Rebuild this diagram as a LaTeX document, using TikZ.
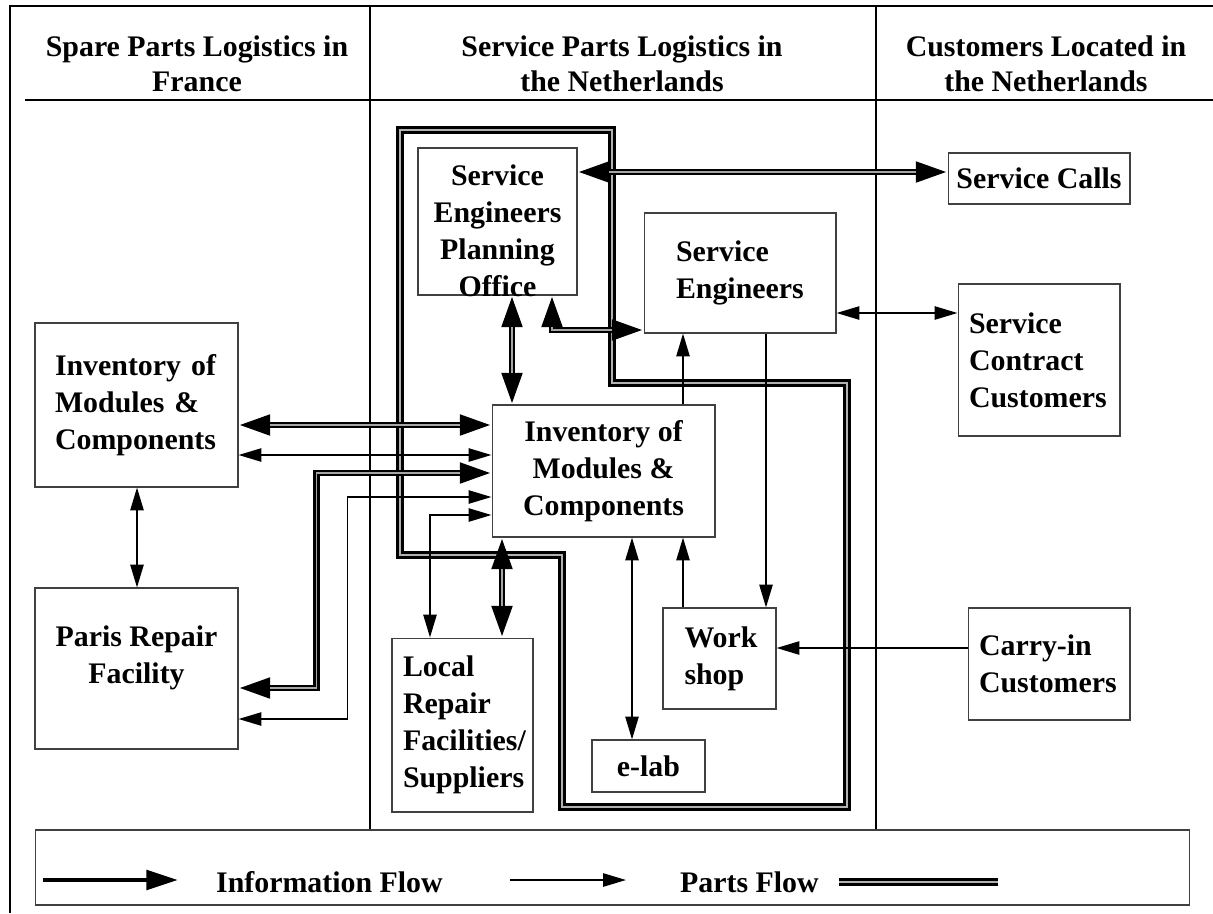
\documentclass[tikz,border=0pt]{standalone}
\usepackage{fontspec}
\setmainfont{Liberation Serif}
\usetikzlibrary{arrows.meta}

\begin{document}
\begin{tikzpicture}[x=0.02cm, y=-0.02cm,
    bigtip/.tip={Triangle[length=18pt, width=11pt]},
    smalltip/.tip={Triangle[length=13pt, width=7.5pt]},
    box/.style={draw=black!75, line width=0.6pt, inner sep=0pt, align=center,
      font=\bfseries\fontsize{17}{21}\selectfont},
    lbox/.style={box, align=left},
    colhead/.style={align=center, font=\bfseries\fontsize{17}{20}\selectfont},
    txt/.style={align=center, font=\bfseries\fontsize{17}{21}\selectfont},
    sepline/.style={line width=0.9pt},
    zone/.style={line width=1.5pt, double=black!30, double distance=1.6pt},
    thk/.style={line width=3.8pt, line join=miter},
    hollow/.style={postaction={draw=black!35, line width=1.1pt, -, shorten <=18pt, shorten >=18pt}},
    infoboth/.style={thk, hollow, arrows={bigtip-bigtip}},
    flow/.style={line width=1.1pt},
    partsto/.style={flow, arrows={-smalltip}},
    partsboth/.style={flow, arrows={smalltip-smalltip}}]
    \fill[white] (0,0) rectangle (1213,913);
    \useasboundingbox (0,0) rectangle (1213,913);

    % frame and columns
    \draw[sepline] (10,913) -- (10,6) -- (1213,6);
    \draw[sepline] (25,100) -- (1213,100);
    \draw[sepline] (370,6) -- (370,830);
    \draw[sepline] (876,6) -- (876,830);

    \node[colhead] (hfr) at (197,64) {Spare Parts Logistics in\\France};
    \node[colhead] (hnl) at (622,64) {Service Parts Logistics in\\the Netherlands};
    \node[colhead] (hcu) at (1046,64) {Customers Located in\\the Netherlands};

    \draw[zone] (400,130) -- (612,130) -- (612,383) -- (847,383) -- (847,807) -- (562,807) -- (562,555) -- (400,555) -- cycle;

    % boxes
    \node[lbox, text width=3.26cm, inner xsep=0.4cm, minimum height=3.28cm] (invF) at (136.5,405) {Inventory of\\Modules \&\\Components};
    \node[box, minimum width=4.06cm, minimum height=3.22cm,
      label={[txt, yshift=0.21cm]center:{Paris Repair\\Facility}}] (paris) at (136.5,668.5) {};
    \node[box, minimum width=3.18cm, minimum height=2.94cm,
      label={[txt, yshift=-0.19cm]center:{Service\\Engineers\\Planning\\Office}}] (sepo) at (497.5,221.5) {};
    \node[lbox, text width=2.56cm, inner xsep=0.64cm, minimum height=2.4cm] (seng) at (740,273) {Service\\Engineers};
    \node[box, minimum width=3.64cm, minimum height=1.02cm] (calls) at (1039,178.5) {Service Calls};
    \node[lbox, text width=2.8cm, inner xsep=0.22cm, minimum height=3.04cm] (contract) at (1039,360) {Service\\Contract\\Customers};
    \node[lbox, text width=2.8cm, inner xsep=0.22cm, minimum height=2.24cm] (carry) at (1049,664) {Carry-in\\Customers};
    \node[box, minimum width=4.46cm, minimum height=2.64cm] (invN) at (603.5,471) {Inventory of\\Modules \&\\Components};
    \node[lbox, text width=2.38cm, inner xsep=0.22cm, minimum height=3.48cm] (local) at (462.5,725) {Local\\Repair\\Facilities/\\Suppliers};
    \node[lbox, text width=1.4cm, inner xsep=0.43cm, minimum height=2.02cm] (work) at (719.5,658.5) {Work\\shop};
    \node[box, minimum width=2.26cm, minimum height=1.04cm] (elab) at (648.5,766) {e-lab};

    % flows
    \draw[infoboth] (sepo.east |- 0,172) -- (calls.west |- 0,172);
    \draw[infoboth] (sepo.south -| 512,0) -- (invN.north -| 512,0);
    \draw[infoboth] (sepo.south -| 552,0) |- (seng.west |- 0,330);
    \draw[partsto] (invN.north -| 683,0) -- (seng.south -| 683,0);
    \draw[partsto] (seng.south -| 766,0) -- (work.north -| 766,0);
    \draw[partsboth] (seng.east |- 0,313) -- (contract.west |- 0,313);
    \draw[partsto] (carry.west |- 0,648) -- (work.east |- 0,648);
    \draw[partsto] (work.north -| 683,0) -- (invN.south -| 683,0);
    \draw[partsboth] (invN.south -| 632,0) -- (elab.north -| 632,0);
    \draw[infoboth] (invN.south -| 502,0) -- (local.north -| 502,0);
    \draw[partsboth] (invN.west |- 0,515) -| (local.north -| 430,0);
    \draw[infoboth] (invF.east |- 0,425) -- (invN.west |- 0,425);
    \draw[partsboth] (invF.east |- 0,455) -- (invN.west |- 0,455);
    \draw[infoboth] (invN.west |- 0,473) -- ++(-175,0) |- (paris.east |- 0,688);
    \draw[partsboth] (invN.west |- 0,497) -- ++(-144,0) |- (paris.east |- 0,719);
    \draw[partsboth] (invF.south -| 137,0) -- (paris.north -| 137,0);

    % legend
    \node[box, minimum width=23.1cm, minimum height=1.5cm] (leg) at (612.5,867.5) {};
    \coordinate (ia) at (43,880);
    \coordinate (ib) at (178,880);
    \draw[thk, line width=2.6pt, arrows={-bigtip}] (ia) -- (ib);
    \node[txt, anchor=west] (itxt) at (210,882) {Information Flow};
    \coordinate (pa) at (510,880);
    \coordinate (pb) at (626,880);
    \draw[partsto] (pa) -- (pb);
    \node[txt, anchor=west] (ptxt) at (674,882) {Parts Flow};
    \coordinate (za) at (839,882);
    \coordinate (zb) at (998,882);
    \draw[zone] (za) -- (zb);
\end{tikzpicture}
\end{document}
